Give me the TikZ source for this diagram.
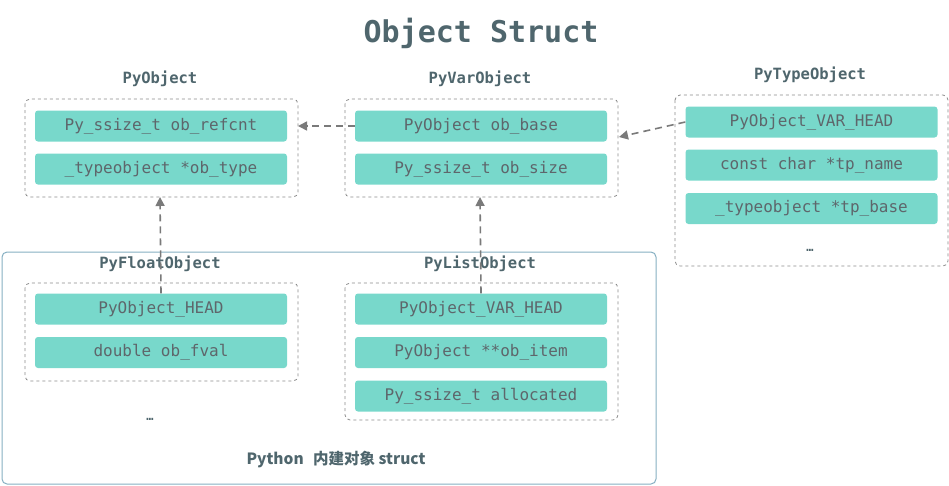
\documentclass[tikz,border=0pt]{standalone}
\usepackage{fontspec}
\setmonofont{DejaVu Sans Mono}
\newfontfamily\cjk{Noto Sans CJK SC}
\usetikzlibrary{arrows.meta}
\definecolor{barfill}{HTML}{78D8CB}
\definecolor{bartext}{HTML}{5E666B}
\definecolor{labeltext}{HTML}{4F666D}
\definecolor{dashcol}{HTML}{8A8A8A}
\definecolor{arrowcol}{HTML}{7A7A7A}
\definecolor{outercol}{HTML}{86AFC2}
\tikzset{
  bar/.style={fill=barfill, draw=none, rounded corners=3pt, minimum width=252pt, minimum height=31pt, inner sep=0pt, text=bartext, font=\ttfamily\fontsize{16}{16}\selectfont},
  grp/.style={draw=dashcol, dashed, rounded corners=5pt, line width=0.8pt},
  lbl/.style={text=labeltext, font=\ttfamily\bfseries\fontsize{15.5}{16}\selectfont, inner sep=0pt},
  dots/.style={text=labeltext, font=\ttfamily\bfseries\fontsize{12}{12}\selectfont, inner sep=0pt},
  link/.style={draw=arrowcol, dashed, dash pattern=on 7pt off 5pt, line width=1.6pt, -{Triangle[length=9pt,width=9pt]}}
}
\begin{document}
\begin{tikzpicture}[x=1pt,y=-1pt]
\useasboundingbox (0,0) rectangle (949,485);
% title
\node[text=labeltext, font=\ttfamily\bfseries\fontsize{30}{32}\selectfont, inner sep=0pt] (title) at (481,33) {Object Struct};
% outer box
\draw[draw=outercol, line width=1pt, rounded corners=5pt] (2,252) rectangle (656,484);
\node[text=labeltext, font=\cjk\bfseries\fontsize{15.5}{16}\selectfont, inner sep=0pt] (builtin) at (336,460) {Python\hspace{0.6em}内建对象 struct};
% PyObject
\node[lbl] (lobj) at (160,79) {PyObject};
\draw[grp] (25,99) rectangle (298,197);
\coordinate (objR) at (298,126);
\coordinate (objB) at (160,197);
\node[bar] (o1) at (161,126) {Py\_ssize\_t ob\_refcnt};
\node[bar] (o2) at (161,169) {\_typeobject *ob\_type};
% PyVarObject
\node[lbl] (lvar) at (480,79) {PyVarObject};
\draw[grp] (345,99) rectangle (618,197);
\coordinate (varR) at (619,137);
\coordinate (varB) at (480,197);
\node[bar] (v1) at (481,126) {PyObject ob\_base};
\node[bar] (v2) at (481,169) {Py\_ssize\_t ob\_size};
% PyTypeObject
\node[lbl] (ltype) at (810,75) {PyTypeObject};
\draw[grp] (675,95) rectangle (948,266);
\node[bar] (t1) at (811.5,122) {PyObject\_VAR\_HEAD};
\node[bar] (t2) at (811.5,165) {const char *tp\_name};
\node[bar] (t3) at (811.5,208.5) {\_typeobject *tp\_base};
\node[dots] (tdots) at (810,250) {…};
% PyFloatObject
\node[lbl] (lfloat) at (160,264) {PyFloatObject};
\draw[grp] (25,283) rectangle (298,381);
\node[bar] (f1) at (161,309) {PyObject\_HEAD};
\node[bar] (f2) at (161,352.5) {double ob\_fval};
\node[dots] (fdots) at (150,419) {…};
% PyListObject
\node[lbl] (llist) at (480,264) {PyListObject};
\draw[grp] (345,283) rectangle (618,420);
\node[bar] (l1) at (481,309) {PyObject\_VAR\_HEAD};
\node[bar] (l2) at (481,352.5) {PyObject **ob\_item};
\node[bar] (l3) at (481,396) {Py\_ssize\_t allocated};
% links
\draw[link] (v1.west) -- (objR);
\draw[link] (t1.west) -- (varR);
\draw[link] (f1.north) -- (objB);
\draw[link] (l1.north) -- (varB);
\end{tikzpicture}
\end{document}
